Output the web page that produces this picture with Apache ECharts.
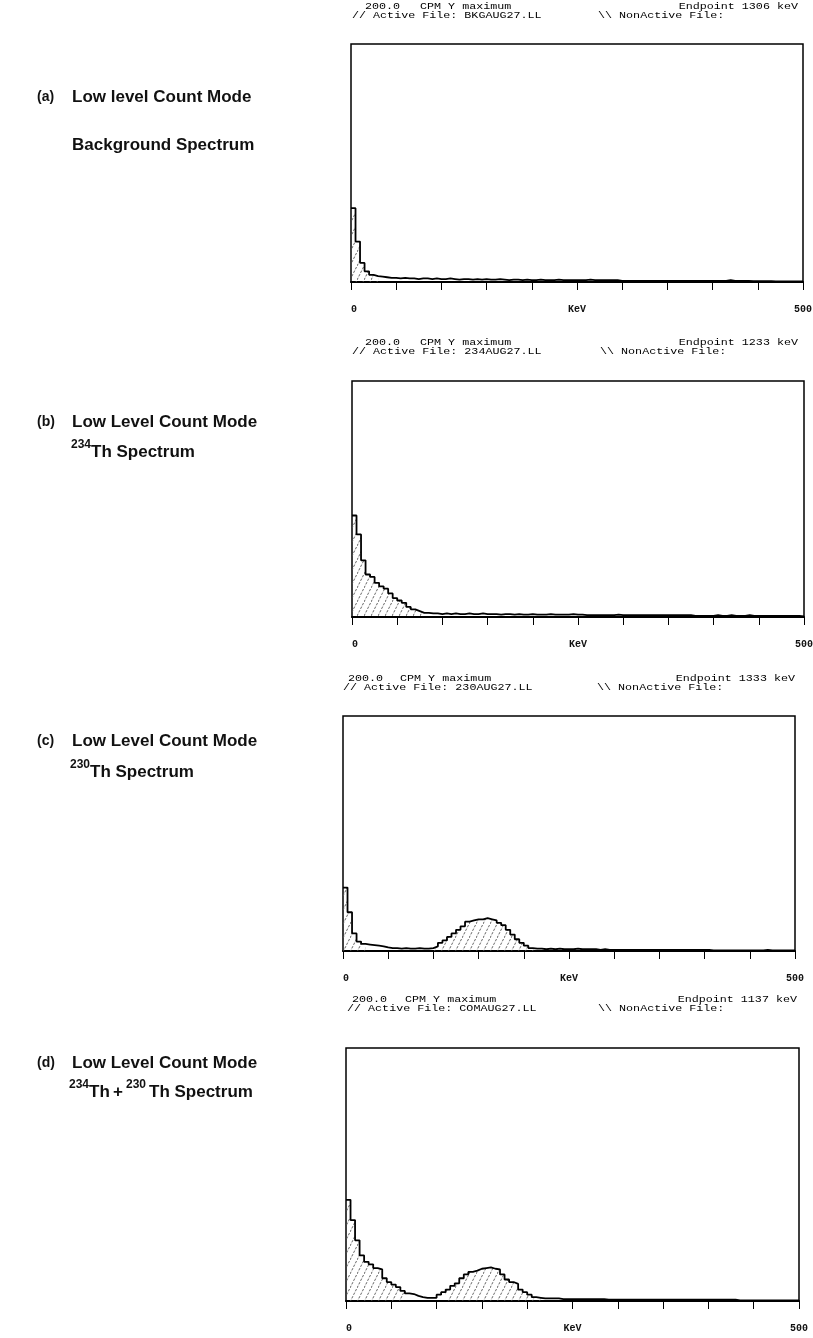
<!DOCTYPE html>
<html><head><meta charset="utf-8">
<script src="https://cdn.jsdelivr.net/npm/echarts@6/dist/echarts.min.js"></script>
<style>html,body{margin:0;padding:0;background:#fff}#c{width:813px;height:1338px}</style>
</head><body><div id="c"></div>
<script>
// ---------------- DATA ----------------
const BIN_KEV = 5;               // channel width (keV), 100 channels 0-500 keV
const X_MAX = 500;
const Y_MAX_CPM = 200;
const tickLabels = ['0', '500'];
const axisName = 'KeV';
const yMaxText = '200.0';
const activeFiles = ['BKGAUG27.LL', '234AUG27.LL', '230AUG27.LL', 'COMAUG27.LL'];
const endpoints = [1306, 1233, 1333, 1137];
const panelLetters = ['(a)', '(b)', '(c)', '(d)'];

// CPM per 5 keV channel
const bkgCounts = [
  62, 34, 16, 9, 6, 5, 4.5, 4, 3.5, 3.5,
  3, 3.5, 3, 3, 2.5, 3, 3, 2.5, 3, 2.5,
  2.5, 3, 2.5, 2, 2.5, 2.5, 2, 2.5, 2, 2.5,
  2, 2, 2.5, 2, 1.5, 2, 2, 1.5, 2, 1.5,
  1.5, 2, 1.5, 1.5, 1.5, 2, 1.5, 1.5, 1.5, 1.5,
  1.5, 1.5, 2, 1.5, 1.5, 1.5, 1.5, 1.5, 1.5, 1,
  1, 1, 1, 1, 1, 1, 1, 1, 1, 1,
  1, 1, 1, 1, 1, 1, 1, 1, 1, 1,
  1, 1, 1, 1.5, 1, 1, 1, 1, 0.8, 0.8,
  0.8, 0.8, 0.8, 0.5, 0.5, 0.5, 0.5, 0.5, 0.5, 0.5
];
const th234Counts = [
  86, 70, 48, 36, 34, 29, 26, 24, 20, 16,
  14, 12, 8.5, 6.5, 5, 3.5, 3.5, 3, 3, 2.5,
  3, 2.5, 3, 2.5, 2.5, 3, 2.5, 2.5, 3, 2.5,
  2.5, 2.5, 2, 2.5, 2.5, 2, 2.5, 2, 2, 2.5,
  2, 2, 2, 2.5, 2, 2, 2, 2, 2.5, 2,
  2, 1.5, 1.5, 1.5, 1.5, 1.5, 1.5, 1.5, 2, 1.5,
  1.5, 1.5, 1.5, 1.5, 1.5, 1.5, 1.5, 1.5, 1.5, 1.5,
  1.5, 1.5, 1.5, 1.5, 1.5, 1, 1, 1, 1, 1,
  1.5, 1, 1, 1.5, 1, 1, 1, 1.5, 1, 1,
  1, 1, 1, 1, 1, 1, 1, 1, 1, 0.5
];
const th230Counts = [
  54, 33, 15, 8, 6, 5.5, 5, 4.5, 4, 3,
  2.5, 2.5, 2, 2.5, 2, 2, 2.5, 2, 2, 2.5,
  4, 7, 9, 12, 15, 18, 21, 25, 26, 27,
  27, 28, 27, 26, 24, 22, 18, 14, 10, 7,
  4.5, 2.5, 2, 2, 1.5, 2, 1.5, 2, 1.5, 1.5,
  1.5, 2, 1.5, 1.5, 1.5, 1.5, 1, 1.5, 1, 1,
  1, 1, 1, 1, 1, 1, 1, 1, 1, 1,
  1, 1, 1, 1, 1, 1, 1, 1, 1, 1,
  1, 0.5, 0.5, 0.5, 0.5, 0.5, 0.5, 0.5, 0.5, 0.5,
  0.5, 0.5, 0.5, 1, 0.5, 0.5, 0.5, 0.5, 0.5, 0.5
];
const comboCounts = [
  80, 64, 48, 36, 31, 29, 26, 25, 18, 15,
  13, 11, 8, 6, 5.5, 4, 3, 2.5, 2.5, 2.5,
  5, 7, 9, 12, 14, 18, 21, 23, 24, 25.5,
  26, 26.5, 25.5, 25, 21, 17, 15, 13.5, 9, 7,
  5, 3, 2.5, 2, 2, 2, 2, 1.5, 1.5, 1.5,
  1.5, 1.5, 1.5, 1.5, 1.5, 1.5, 1.5, 1, 1, 1,
  1, 1, 1, 1, 1, 1, 1, 1, 1, 1,
  1, 1, 1, 1, 1, 1, 1, 1, 1, 1,
  1, 1, 1, 1, 1, 1, 0.5, 0.5, 0.5, 0.5,
  0.5, 0.5, 0.5, 0.5, 0.5, 0.5, 0.5, 0.5, 0.5, 0.5
];
const spectra = [bkgCounts, th234Counts, th230Counts, comboCounts];
// hatched regions of interest (keV)
const roiA = [[0, 25]];
const roiB = [[0, 75]];
const roiC = [[0, 20], [100, 210]];
const roiD = [[0, 60], [110, 215]];
const rois = [roiA, roiB, roiC, roiD];

// ---------------- LAYOUT ----------------
const panels = [
  { left: 351, top: 44,   width: 452, height: 238, h1: 7,    h2: 16,   valX: 365, cpmX: 420, actX: 352, nonX: 598, endR: 798 },
  { left: 352, top: 381,  width: 452, height: 236, h1: 343,  h2: 352,  valX: 365, cpmX: 420, actX: 352, nonX: 600, endR: 798 },
  { left: 343, top: 716,  width: 452, height: 235, h1: 679,  h2: 688,  valX: 348, cpmX: 400, actX: 343, nonX: 597, endR: 795 },
  { left: 346, top: 1048, width: 453, height: 253, h1: 1000, h2: 1009, valX: 352, cpmX: 405, actX: 347, nonX: 598, endR: 797 }
];
const leftRows = [97, 422, 741, 1063];
const leftRows2 = [145, 452, 772, 1092];

// hatch pattern
function hatch() {
  const c = document.createElement('canvas');
  c.width = 7; c.height = 14;
  const g = c.getContext('2d');
  g.strokeStyle = '#555';
  g.lineWidth = 0.9;
  g.setLineDash([2.5, 1.5]);
  g.beginPath();
  g.moveTo(0, 14); g.lineTo(7, 0);
  g.stroke();
  return c;
}
const hatchPattern = { image: hatch(), repeat: 'repeat' };

const grids = [], xAxes = [], yAxes = [], series = [], graphics = [];
const mono = '"Liberation Mono", "DejaVu Sans Mono", monospace';
const sans = '"Liberation Sans", Arial, Helvetica, sans-serif';

function hdrText(x, y, text, align) {
  return { type: 'text', x: x, y: y, scaleX: 1.3, z: 10,
    style: { text: text, fontFamily: mono, fontSize: 9, fill: '#000',
      textAlign: align || 'left', textVerticalAlign: 'middle' } };
}
function lbl(x, y, text, size) {
  return { type: 'text', x: x, y: y, z: 10,
    style: { text: text, fontFamily: sans, fontWeight: 'bold', fontSize: size || 17, fill: '#111',
      textAlign: 'left', textVerticalAlign: 'middle' } };
}

spectra.forEach(function (vals, i) {
  const p = panels[i];
  grids.push({ left: p.left, top: p.top, width: p.width, height: p.height, show: true,
    borderColor: '#000', borderWidth: 1.5, backgroundColor: 'transparent', outerBoundsMode: 'none' });
  xAxes.push({ type: 'value', gridIndex: i, min: 0, max: X_MAX, interval: 50,
    name: axisName, nameLocation: 'middle', nameGap: 22, nameMoveOverlap: false,
    nameTextStyle: { fontFamily: mono, fontSize: 10, fontWeight: 'bold', color: '#111', verticalAlign: 'top' },
    axisLine: { show: true, lineStyle: { color: '#000', width: 2 } },
    axisTick: { show: true, length: 8, lineStyle: { color: '#000', width: 1 } },
    axisLabel: { margin: 22, fontFamily: mono, fontSize: 10, fontWeight: 'bold', color: '#111', alignMinLabel: 'left',
      formatter: function (v) { return v === 0 ? tickLabels[0] : (v === X_MAX ? tickLabels[1] : ''); } },
    splitLine: { show: false } });
  yAxes.push({ type: 'value', gridIndex: i, min: 0, max: Y_MAX_CPM, show: false, splitLine: { show: false } });

  const line = vals.map(function (v, k) { return [k * BIN_KEV, v]; });
  line.push([X_MAX, vals[vals.length - 1]]);
  const area = line.map(function (pt) {
    const inRoi = rois[i].some(function (r) { return pt[0] >= r[0] && pt[0] <= r[1]; });
    return inRoi ? pt : [pt[0], null];
  });
  series.push({ type: 'line', xAxisIndex: i, yAxisIndex: i, data: area, step: 'end', symbol: 'none',
    lineStyle: { width: 0, opacity: 0 }, areaStyle: { color: hatchPattern, opacity: 1 },
    connectNulls: false, silent: true, z: 1 });
  series.push({ type: 'line', xAxisIndex: i, yAxisIndex: i, data: line, step: 'end', symbol: 'none',
    lineStyle: { color: '#000', width: 1.8 }, silent: true, z: 3 });

  graphics.push(hdrText(p.valX, p.h1, yMaxText));
  graphics.push(hdrText(p.cpmX, p.h1, 'CPM Y maximum'));
  graphics.push(hdrText(p.endR, p.h1, 'Endpoint ' + endpoints[i] + ' keV', 'right'));
  graphics.push(hdrText(p.actX, p.h2, '// Active File: ' + activeFiles[i]));
  graphics.push(hdrText(p.nonX, p.h2, '\\\\ NonActive File:'));

  graphics.push(lbl(37, leftRows[i], panelLetters[i], 14));
  graphics.push(lbl(72, leftRows[i], i === 0 ? 'Low level Count Mode' : 'Low Level Count Mode'));
});

// second lines of left labels (with superscripts)
graphics.push(lbl(72, leftRows2[0], 'Background Spectrum'));
graphics.push(lbl(71, leftRows2[1] - 7, '234', 12));
graphics.push(lbl(91, leftRows2[1], 'Th Spectrum'));
graphics.push(lbl(70, leftRows2[2] - 7, '230', 12));
graphics.push(lbl(90, leftRows2[2], 'Th Spectrum'));
graphics.push(lbl(69, leftRows2[3] - 7, '234', 12));
graphics.push(lbl(89, leftRows2[3], 'Th'));
graphics.push(lbl(113, leftRows2[3], '+'));
graphics.push(lbl(126, leftRows2[3] - 7, '230', 12));
graphics.push(lbl(149, leftRows2[3], 'Th Spectrum'));

const chart = echarts.init(document.getElementById('c'), null, { renderer: 'canvas' });
chart.setOption({
  backgroundColor: '#fff',
  animation: false,
  grid: grids, xAxis: xAxes, yAxis: yAxes, series: series,
  graphic: { elements: graphics }
});
</script></body></html>
